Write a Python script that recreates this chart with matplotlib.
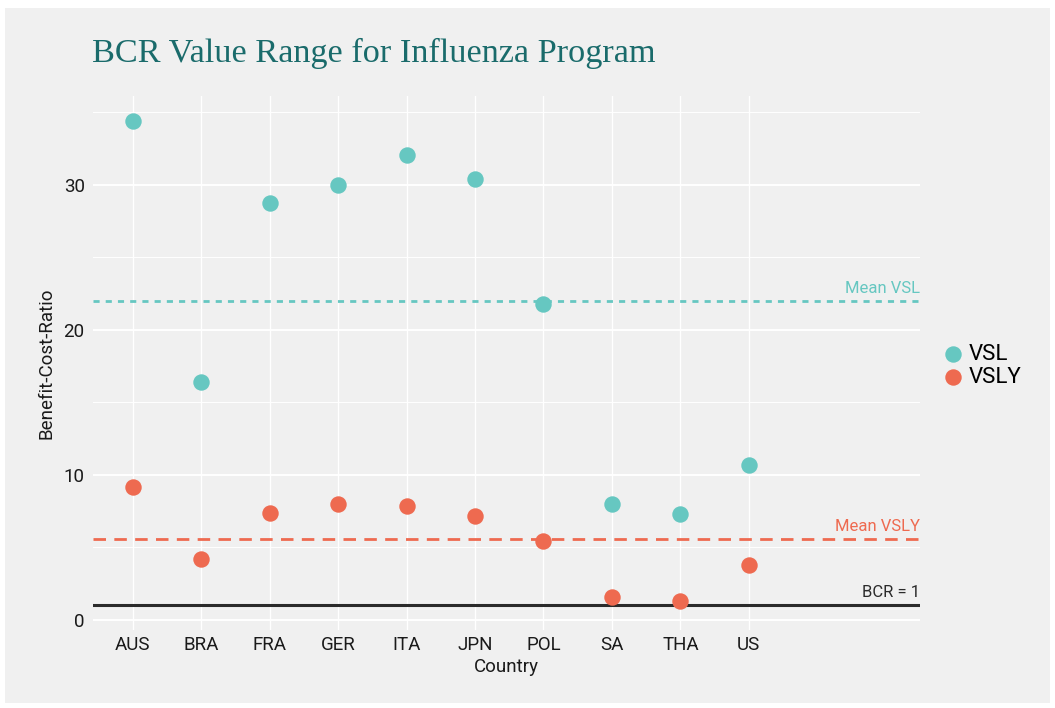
import matplotlib.pyplot as plt
from matplotlib.patches import Rectangle
from matplotlib.ticker import MultipleLocator

# datos
paises = ["AUS", "BRA", "FRA", "GER", "ITA", "JPN", "POL", "SA", "THA", "US"]
vsl = [34.4, 16.4, 28.7, 30.0, 32.0, 30.4, 21.8, 8.0, 7.3, 10.7]
vsly = [9.15, 4.2, 7.35, 8.0, 7.85, 7.15, 5.45, 1.6, 1.3, 3.8]
bcr_ref = 1.0

col_vsl = "#66C7C1"
col_vsly = "#EE6A50"
fondo = "#F0F0F0"

plt.rcParams['font.family'] = ['Roboto', 'DejaVu Sans']

fig = plt.figure(figsize=(10.55, 7.08), dpi=100)
fig.patch.set_facecolor("white")
# panel gris con un pequeno borde blanco
fig.patches.append(Rectangle((5 / 1055, 5 / 708), 1045 / 1055, 695 / 708,
                             transform=fig.transFigure, facecolor=fondo,
                             edgecolor="none", zorder=-10))

ax = fig.add_axes([93 / 1055, 78 / 708, 827 / 1055, 534 / 708])
ax.set_facecolor(fondo)
for s in ax.spines.values():
    s.set_visible(False)

x = list(range(len(paises)))
ax.scatter(x, vsl, s=140, color=col_vsl, label="VSL", zorder=4, linewidths=0)
ax.scatter(x, vsly, s=140, color=col_vsly, label="VSLY", zorder=4, linewidths=0)

media_vsl = sum(vsl) / len(vsl)
media_vsly = sum(vsly) / len(vsly)

ax.axhline(media_vsl, color=col_vsl, lw=2, ls=(0, (2.2, 2.2)), zorder=3)
ax.axhline(media_vsly, color=col_vsly, lw=2, ls=(0, (4.5, 3)), zorder=3)
ax.axhline(bcr_ref, color="#2B2B2B", lw=2.2, zorder=3)

ax.text(1.0, media_vsl + 0.35, "Mean VSL", transform=ax.get_yaxis_transform(),
        ha="right", va="bottom", color=col_vsl, fontsize=12)
ax.text(1.0, media_vsly + 0.35, "Mean VSLY", transform=ax.get_yaxis_transform(),
        ha="right", va="bottom", color=col_vsly, fontsize=12)
ax.text(1.0, bcr_ref + 0.35, "BCR = 1", transform=ax.get_yaxis_transform(),
        ha="right", va="bottom", color="#2B2B2B", fontsize=12)

ax.set_xlim(-0.58, 11.5)
ax.set_ylim(-0.7, 36.1)
ax.set_xticks(x)
ax.set_xticklabels(paises)
ax.yaxis.set_major_locator(MultipleLocator(10))
ax.yaxis.set_minor_locator(MultipleLocator(5))
ax.tick_params(axis="both", length=0, labelsize=13.5, colors="#1A1A1A", pad=6)
ax.tick_params(axis="x", pad=4)
ax.tick_params(axis="y", which="minor", length=0)

ax.grid(True, which="major", axis="y", color="white", lw=1.4, zorder=0)
ax.grid(True, which="major", axis="x", color="white", lw=1.0, zorder=0)
ax.grid(True, which="minor", axis="y", color="white", lw=0.7, zorder=0)
ax.set_axisbelow(True)

ax.set_xlabel("Country", fontsize=13.5, color="#1A1A1A", labelpad=3)
ax.set_ylabel("Benefit-Cost-Ratio", fontsize=13.5, color="#1A1A1A", labelpad=6)

fig.text(92 / 1055, 1 - 53 / 708, "BCR Value Range for Influenza Program",
         family="Liberation Serif", fontsize=24.7, color="#1A6B6B",
         ha="left", va="center")

fig.legend(loc="center left", bbox_to_anchor=(933 / 1055, 1 - 366 / 708),
           frameon=False, fontsize=16, handletextpad=0.2, labelspacing=0.1,
           borderaxespad=0, handlelength=1.0)

fig.savefig("out.png", dpi=100, facecolor=fig.get_facecolor())
